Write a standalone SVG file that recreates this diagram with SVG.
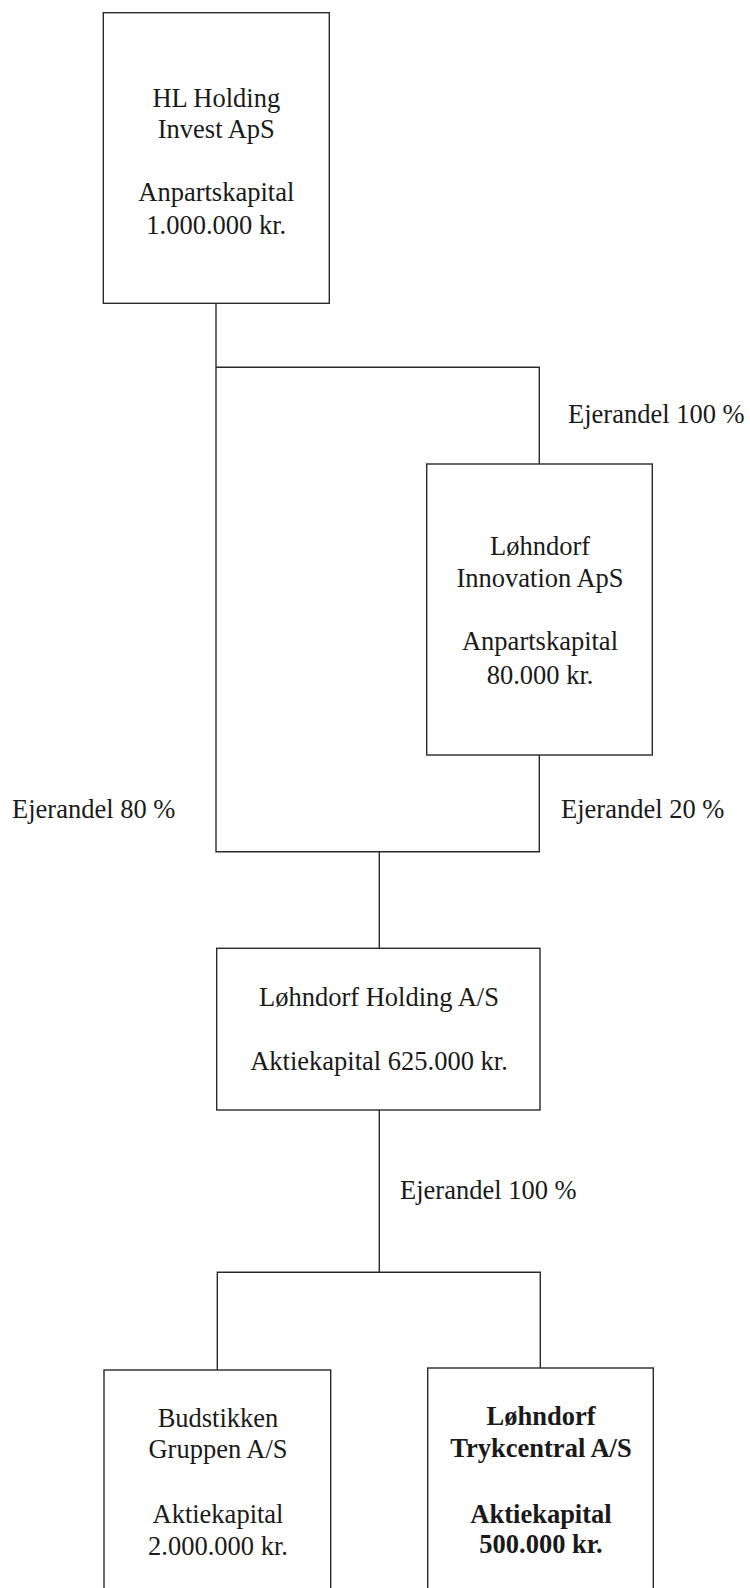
<svg xmlns="http://www.w3.org/2000/svg" width="750" height="1588" viewBox="0 0 750 1588">
<style>
.box{fill:#fff;stroke:#2a2a2a;stroke-width:1.4}
.ln{fill:none;stroke:#2a2a2a;stroke-width:1.4}
text{font-family:"Liberation Serif","Times New Roman",serif;font-size:26.5px;fill:#1a1a1a}
.c{text-anchor:middle}
.b{font-weight:bold}
</style>
<rect width="750" height="1588" fill="#fff"/>
<g id="connectors">
<polyline class="ln" points="216,303.3 216,851.7 539.3,851.7 539.3,755"/>
<polyline class="ln" points="216,367.3 539.3,367.3 539.3,464"/>
<line class="ln" x1="379.3" y1="851.7" x2="379.3" y2="948.3"/>
<line class="ln" x1="379.3" y1="1110" x2="379.3" y2="1272.3"/>
<polyline class="ln" points="217.3,1370 217.3,1272.3 540.3,1272.3 540.3,1368"/>
<text x="568" y="423">Ejerandel 100 %</text>
<text x="12" y="818">Ejerandel 80 %</text>
<text x="561" y="818">Ejerandel 20 %</text>
<text x="400" y="1199">Ejerandel 100 %</text>
</g>
<g id="hl-holding">
<rect class="box" x="103.3" y="12.7" width="226" height="290.6"/>
<text class="c" x="216.3" y="107">HL Holding</text>
<text class="c" x="216.3" y="138">Invest ApS</text>
<text class="c" x="216.3" y="201">Anpartskapital</text>
<text class="c" x="216.3" y="234">1.000.000 kr.</text>
</g>
<g id="innovation">
<rect class="box" x="426.7" y="464" width="225.6" height="291"/>
<text class="c" x="540" y="555">Løhndorf</text>
<text class="c" x="540" y="587">Innovation ApS</text>
<text class="c" x="540" y="650">Anpartskapital</text>
<text class="c" x="540" y="684">80.000 kr.</text>
</g>
<g id="holding">
<rect class="box" x="216.7" y="948.3" width="323.3" height="161.7"/>
<text class="c" x="379" y="1005.7">Løhndorf Holding A/S</text>
<text class="c" x="379" y="1070">Aktiekapital 625.000 kr.</text>
</g>
<g id="budstikken">
<rect class="box" x="104" y="1370" width="226.7" height="240"/>
<text class="c" x="218" y="1426.7">Budstikken</text>
<text class="c" x="218" y="1458">Gruppen A/S</text>
<text class="c" x="218" y="1523">Aktiekapital</text>
<text class="c" x="218" y="1555">2.000.000 kr.</text>
</g>
<g id="trykcentral">
<rect class="box" x="427.7" y="1368" width="225.6" height="240"/>
<text class="c b" x="541" y="1425">Løhndorf</text>
<text class="c b" x="541" y="1457">Trykcentral A/S</text>
<text class="c b" x="541" y="1522.7">Aktiekapital</text>
<text class="c b" x="541" y="1553">500.000 kr.</text>
</g>
</svg>
